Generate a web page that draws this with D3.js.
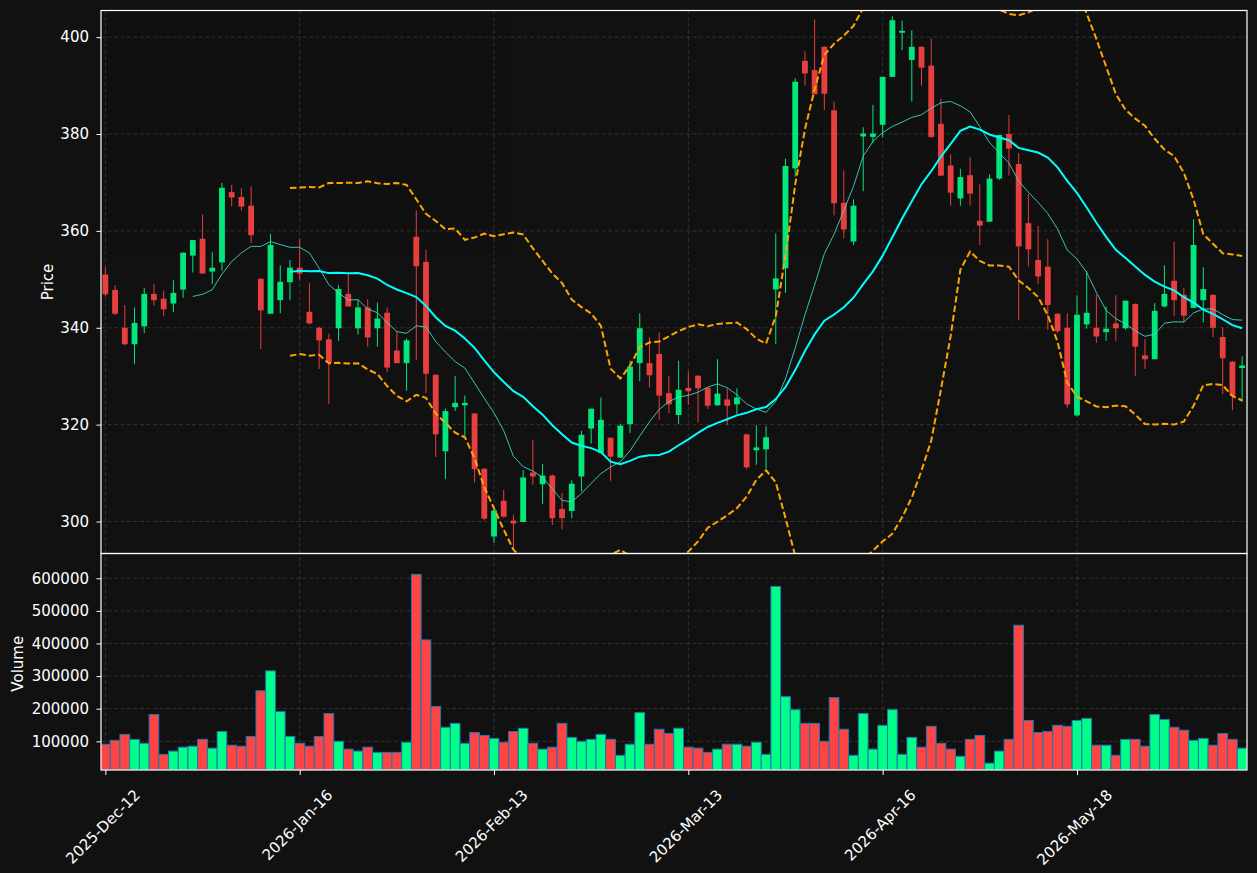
<!DOCTYPE html>
<html>
<head>
<meta charset="utf-8">
<script src="https://cdn.jsdelivr.net/npm/d3@7"></script>
<style>
  html, body { margin: 0; padding: 0; background: #111111; }
  svg { display: block; }
  svg text { font-family: "DejaVu Sans", sans-serif; }
</style>
</head>
<body>
<svg id="chart" width="1257" height="873"></svg>
<script>
// OHLC, one value per trading session
let opens = [351.0, 347.8, 340.0, 336.6, 340.3, 347.0, 346.0, 345.0, 347.9, 354.9,
	358.4, 351.6, 353.5, 368.0, 367.0, 365.2, 350.1, 342.9, 345.7, 349.4,
	352.4, 343.3, 340.0, 337.6, 339.9, 347.0, 339.9, 344.2, 339.9, 343.1,
	335.3, 332.7, 358.8, 353.6, 330.3, 314.5, 323.6, 324.0, 322.3, 310.9,
	296.9, 304.3, 300.2, 299.9, 310.1, 307.7, 309.5, 302.6, 302.2, 309.3,
	319.2, 314.2, 317.3, 313.2, 320.1, 332.7, 332.7, 334.6, 326.5, 322.0,
	327.6, 330.1, 327.6, 324.0, 325.2, 324.2, 318.0, 314.7, 314.9, 347.9,
	352.3, 372.9, 395.1, 393.2, 398.0, 384.9, 365.8, 357.8, 379.5, 379.4,
	381.9, 391.8, 400.9, 395.3, 398.0, 394.1, 382.1, 373.5, 366.7, 371.5,
	362.1, 361.9, 370.8, 380.0, 373.8, 361.6, 354.0, 352.6, 342.9, 340.0,
	321.9, 340.7, 340.0, 339.1, 340.9, 339.9, 344.9, 334.3, 333.5, 344.4,
	349.7, 346.8, 344.1, 345.7, 346.8, 338.1, 333.0, 331.7];
let highs = [352.5, 348.8, 344.7, 344.2, 348.2, 349.0, 347.7, 349.8, 355.6, 358.1,
	363.4, 355.6, 369.9, 369.5, 368.8, 369.2, 350.3, 359.4, 352.9, 354.0,
	358.3, 349.2, 340.2, 338.8, 348.8, 351.2, 345.9, 345.9, 345.2, 344.2,
	339.2, 337.8, 364.2, 356.1, 330.4, 323.3, 330.0, 326.0, 322.4, 311.0,
	302.3, 306.5, 301.4, 310.6, 316.8, 311.9, 309.7, 305.9, 308.5, 318.7,
	323.3, 325.6, 317.4, 320.2, 333.2, 343.0, 338.1, 339.1, 330.1, 333.2,
	331.0, 330.2, 327.7, 333.5, 327.5, 327.5, 318.1, 319.9, 319.7, 359.5,
	374.9, 391.5, 397.1, 403.7, 398.1, 386.7, 372.5, 366.5, 381.4, 386.0,
	391.8, 404.3, 403.4, 401.4, 398.1, 399.7, 387.3, 375.8, 372.8, 375.2,
	369.6, 371.7, 379.8, 383.9, 376.1, 367.6, 361.0, 358.3, 343.0, 343.0,
	346.7, 351.7, 346.8, 344.4, 346.7, 345.6, 345.0, 337.7, 345.1, 352.9,
	357.7, 348.2, 362.4, 352.5, 346.9, 340.1, 333.1, 334.1];
let lows = [346.5, 342.6, 336.4, 332.5, 338.9, 344.6, 342.4, 343.2, 346.2, 351.4,
	351.2, 349.0, 351.8, 365.1, 364.2, 357.5, 335.6, 342.9, 343.0, 345.7,
	349.8, 340.7, 331.5, 324.3, 337.3, 344.4, 338.6, 336.1, 336.1, 330.8,
	332.7, 327.0, 333.3, 326.5, 313.3, 308.8, 322.8, 317.6, 308.0, 300.2,
	295.6, 300.8, 294.5, 299.9, 307.6, 303.6, 299.3, 298.4, 300.7, 306.2,
	316.1, 314.2, 308.4, 313.2, 318.3, 329.0, 327.7, 321.0, 322.4, 320.1,
	324.1, 320.4, 323.2, 323.9, 319.9, 322.1, 310.8, 311.7, 310.9, 336.6,
	347.2, 371.2, 390.0, 388.2, 385.0, 363.2, 358.5, 357.1, 368.2, 378.1,
	379.3, 391.8, 397.3, 386.7, 390.0, 379.2, 371.4, 365.2, 365.2, 365.2,
	357.1, 361.9, 370.5, 371.4, 341.6, 352.7, 349.0, 339.6, 338.9, 323.5,
	321.7, 339.8, 336.9, 337.3, 337.3, 339.6, 330.1, 331.5, 333.5, 344.2,
	342.5, 341.1, 344.1, 341.1, 338.1, 326.3, 323.0, 324.7];
let closes = [346.9, 342.9, 336.6, 341.0, 347.0, 345.7, 343.8, 347.2, 355.5, 358.1,
	351.2, 352.4, 368.9, 366.9, 365.0, 359.1, 343.6, 357.1, 349.5, 352.4,
	351.2, 340.9, 337.4, 332.8, 348.0, 344.4, 344.2, 338.0, 341.9, 331.8,
	332.7, 337.4, 352.7, 330.5, 318.0, 322.8, 324.5, 324.5, 310.8, 300.6,
	302.3, 301.0, 299.6, 309.1, 309.3, 309.5, 300.7, 300.7, 307.8, 317.9,
	323.3, 321.0, 313.4, 319.8, 332.0, 339.9, 330.2, 326.0, 324.2, 327.2,
	326.9, 327.5, 323.9, 326.4, 323.9, 325.6, 311.2, 315.3, 317.4, 350.2,
	373.4, 390.8, 392.5, 388.2, 388.3, 365.7, 360.3, 365.2, 380.1, 380.1,
	391.8, 403.5, 401.3, 398.0, 393.7, 379.4, 371.4, 367.9, 371.1, 367.7,
	361.1, 370.8, 379.8, 377.0, 356.8, 356.2, 350.6, 344.7, 339.3, 324.2,
	342.7, 343.1, 338.2, 339.8, 339.9, 345.6, 336.1, 333.5, 343.5, 347.0,
	345.7, 342.5, 357.1, 348.0, 340.0, 333.7, 326.0, 332.2];
let volumes = [91000, 103000, 121000, 106000, 94000, 182000, 60000, 70000, 82000, 85000,
	106000, 79000, 130000, 88000, 85000, 115000, 255000, 316000, 191000, 115000,
	94000, 85000, 115000, 185000, 100000, 76000, 70000, 82000, 66000, 66000,
	66000, 97000, 612000, 411000, 207000, 143000, 155000, 94000, 127000, 118000,
	109000, 97000, 130000, 140000, 94000, 76000, 82000, 155000, 112000, 100000,
	106000, 121000, 106000, 57000, 91000, 188000, 91000, 137000, 124000, 140000,
	82000, 79000, 66000, 76000, 91000, 91000, 85000, 97000, 60000, 575000,
	237000, 197000, 155000, 155000, 100000, 234000, 137000, 57000, 185000, 76000,
	149000, 197000, 60000, 112000, 82000, 146000, 94000, 76000, 54000, 106000,
	118000, 33000, 70000, 106000, 456000, 164000, 127000, 130000, 149000, 146000,
	164000, 170000, 88000, 88000, 57000, 106000, 106000, 85000, 182000, 167000,
	143000, 134000, 103000, 109000, 88000, 124000, 106000, 79000];

// x axis labels sit on every 20th session
let tickIndex = [0, 20, 40, 60, 80, 100];
let tickLabels = ["2025-Dec-12", "2026-Jan-16", "2026-Feb-13", "2026-Mar-13", "2026-Apr-16", "2026-May-18"];
let priceTicks = [300, 320, 340, 360, 380, 400];
let volumeTicks = [100000, 200000, 300000, 400000, 500000, 600000];

let upColor = "#00ff88", downColor = "#ff4444";
let gridColor = "#3a3a3a", fg = "#ffffff";
let fontFamily = "'DejaVu Sans', sans-serif";
let fontSize = 15;

// Panels
let left = 101, right = 1247;
let pTop = 10.5, pBottom = 553.5, vBottom = 770;

let svg = d3.select("#chart");
svg.append("rect").attr("width", 1257).attr("height", 873).attr("fill", "#111111");

let x = d3.scaleLinear().domain([-0.45, 117.5]).range([left, right]);
let step = x(1) - x(0);
let yP = d3.scaleLinear().domain([293.4, 405.5]).range([pBottom, pTop]);
let yV = d3.scaleLinear().domain([12000, 676000]).range([vBottom, pBottom]);

let defs = svg.append("defs");
defs.append("clipPath").attr("id", "clipP").append("rect")
	.attr("x", left).attr("y", pTop).attr("width", right - left).attr("height", pBottom - pTop);
defs.append("clipPath").attr("id", "clipV").append("rect")
	.attr("x", left).attr("y", pBottom).attr("width", right - left).attr("height", vBottom - pBottom);

// Grid lines
let grid = svg.append("g")
	.attr("stroke", gridColor).attr("stroke-width", 0.8).attr("stroke-dasharray", "4,2.5");
grid.selectAll(".gp").data(priceTicks).enter().append("line")
	.attr("x1", left).attr("x2", right).attr("y1", d => yP(d)).attr("y2", d => yP(d));
grid.selectAll(".gv").data(volumeTicks).enter().append("line")
	.attr("x1", left).attr("x2", right).attr("y1", d => yV(d)).attr("y2", d => yV(d));
grid.selectAll(".gx").data(tickIndex).enter().append("line")
	.attr("x1", d => x(d)).attr("x2", d => x(d)).attr("y1", pTop).attr("y2", vBottom);

// Candles
let idx = d3.range(closes.length);
let isUp = i => closes[i] >= opens[i];
let candles = svg.append("g").attr("clip-path", "url(#clipP)").attr("opacity", 0.9);
candles.selectAll(".wick").data(idx).enter().append("line")
	.attr("x1", i => x(i)).attr("x2", i => x(i))
	.attr("y1", i => yP(highs[i])).attr("y2", i => yP(lows[i]))
	.attr("stroke", i => isUp(i) ? upColor : downColor)
	.attr("stroke-width", 1);
candles.selectAll(".body").data(idx).enter().append("rect")
	.attr("x", i => x(i) - step * 0.3)
	.attr("width", step * 0.6)
	.attr("y", i => yP(Math.max(opens[i], closes[i])))
	.attr("height", i => Math.max(1, Math.abs(yP(opens[i]) - yP(closes[i]))))
	.attr("fill", i => isUp(i) ? upColor : downColor);

// Moving averages and bands
function rolling(arr, n, fn) {
	return arr.map((v, i) => i < n - 1 ? null : fn(arr.slice(i - n + 1, i + 1)));
}
let ma10 = rolling(closes, 10, d3.mean);
let ma20 = rolling(closes, 20, d3.mean);
let sd20 = rolling(closes, 20, w => { let m = d3.mean(w); return Math.sqrt(d3.mean(w, v => (v - m) * (v - m))); });
let upper = ma20.map((m, i) => m == null ? null : m + 2 * sd20[i]);
let lower = ma20.map((m, i) => m == null ? null : m - 2 * sd20[i]);

let line = d3.line().defined(d => d[1] != null).x(d => x(d[0])).y(d => yP(d[1]));
let lines = svg.append("g").attr("clip-path", "url(#clipP)").attr("fill", "none");
lines.append("path").attr("d", line(ma10.map((v, i) => [i, v])))
	.attr("stroke", "#40e0d0").attr("stroke-width", 1).attr("stroke-opacity", 0.85);
lines.append("path").attr("d", line(ma20.map((v, i) => [i, v])))
	.attr("stroke", "#00ffff").attr("stroke-width", 2);
[upper, lower].forEach(band => {
	lines.append("path").attr("d", line(band.map((v, i) => [i, v])))
		.attr("stroke", "#ffa500").attr("stroke-width", 2)
		.attr("stroke-dasharray", "6.5,3");
});

// Volume bars
svg.append("g").attr("clip-path", "url(#clipV)")
	.selectAll("rect").data(idx).enter().append("rect")
	.attr("x", i => x(i - 0.5))
	.attr("width", step)
	.attr("y", i => yV(volumes[i]))
	.attr("height", i => vBottom - yV(volumes[i]))
	.attr("fill", i => isUp(i) ? upColor : downColor)
	.attr("stroke", "#1f77b4").attr("stroke-width", 1);

// Axes
function styleAxis(g) {
	g.attr("font-family", fontFamily).attr("font-size", fontSize);
	g.select(".domain").remove();
	g.selectAll(".tick line").attr("stroke", fg);
	g.selectAll(".tick text").attr("fill", fg);
}
svg.append("g").attr("transform", "translate(" + left + ",0)")
	.call(d3.axisLeft(yP).tickValues(priceTicks).tickSize(4.5).tickPadding(7.5))
	.call(styleAxis);
svg.append("g").attr("transform", "translate(" + left + ",0)")
	.call(d3.axisLeft(yV).tickValues(volumeTicks).tickFormat(d3.format("d")).tickSize(4.5).tickPadding(7.5))
	.call(styleAxis);

let xAxis = svg.append("g").attr("transform", "translate(0," + vBottom + ")")
	.call(d3.axisBottom(x).tickValues(tickIndex).tickFormat((d, k) => tickLabels[k]).tickSize(5).tickPadding(4))
	.call(styleAxis);
// Rotate the date labels 45 degrees, centred under each tick
xAxis.selectAll(".tick text").each(function() {
	let t = d3.select(this);
	let len = this.getComputedTextLength();
	let asc = 0.76 * fontSize, desc = 0.24 * fontSize;
	let px = 0.7071 * (len + asc - desc) / 2 - 2;
	let py = 18 + 0.7071 * asc;
	t.attr("y", null).attr("dy", null)
		.attr("text-anchor", "end")
		.attr("transform", "translate(" + px + "," + py + ") rotate(-45)");
});

// Panel borders
svg.append("rect").attr("x", left).attr("y", pTop).attr("width", right - left).attr("height", pBottom - pTop)
	.attr("fill", "none").attr("stroke", fg).attr("stroke-width", 1.2);
svg.append("rect").attr("x", left).attr("y", pBottom).attr("width", right - left).attr("height", vBottom - pBottom)
	.attr("fill", "none").attr("stroke", fg).attr("stroke-width", 1.2);

// Axis titles
svg.append("text").attr("transform", "translate(53," + ((pTop + pBottom) / 2) + ") rotate(-90)")
	.attr("text-anchor", "middle").attr("fill", fg).style("font-size", fontSize + "px").text("Price");
svg.append("text").attr("transform", "translate(23," + ((pBottom + vBottom) / 2 + 2) + ") rotate(-90)")
	.attr("text-anchor", "middle").attr("fill", fg).style("font-size", fontSize + "px").text("Volume");
</script>
</body>
</html>
